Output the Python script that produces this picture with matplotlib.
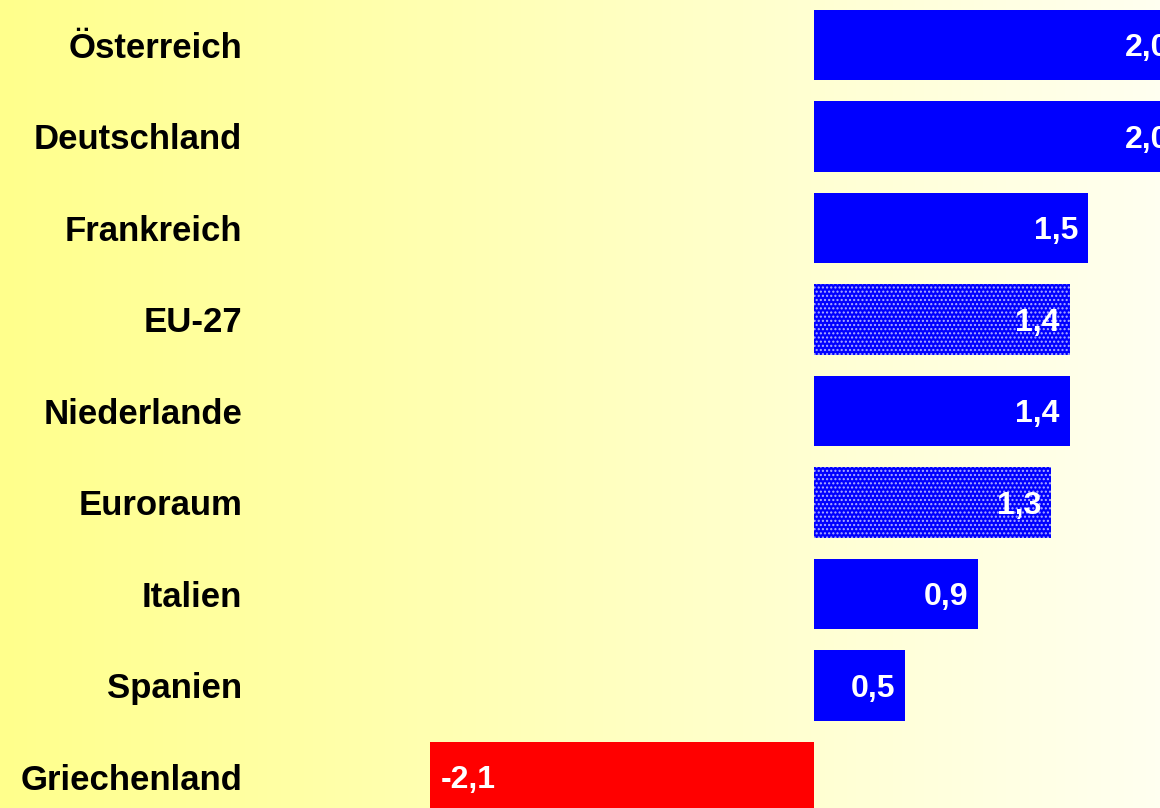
import numpy as np
import pandas as pd
import matplotlib.pyplot as plt


# ============ DATA ============

countries = ["Österreich", "Deutschland", "Frankreich", "EU-27", "Niederlande",
             "Euroraum", "Italien", "Spanien", "Griechenland"]
growth = [2.0, 2.0, 1.5, 1.4, 1.4, 1.3, 0.9, 0.5, -2.1]
aggregates = ["EU-27", "Euroraum"]


# ============ MAIN PROGRAM ============

if __name__ == "__main__":

    df = pd.DataFrame({"Land": countries, "Wachstum": growth})
    df["Aggregat"] = df["Land"].isin(aggregates)

    plt.rcParams['font.family'] = ['Liberation Sans', 'DejaVu Sans']
    plt.rcParams['hatch.linewidth'] = 1.0

    fig = plt.figure(figsize=(11.6, 8.08), dpi=100)
    ax = fig.add_axes([0, 0, 1, 1])

    # Background gradient (yellow -> white)
    grad = np.linspace(0, 1, 256).reshape(1, -1)
    ax.imshow(grad, extent=(-4.456, 1.894, 8.339, -0.492), aspect='auto',
              cmap=plt.matplotlib.colors.LinearSegmentedColormap.from_list(
                  "bg", ["#FFFF8C", "#FFFFF0"]), zorder=0)

    # Bars
    for i, row in df.iterrows():
        color = 'red' if row['Wachstum'] < 0 else 'blue'
        if row['Aggregat']:
            plt.barh(i, row['Wachstum'], height=0.77, color=color,
                     edgecolor='#b0b0ff', linewidth=0, hatch='....', zorder=2)
        else:
            plt.barh(i, row['Wachstum'], height=0.77, color=color,
                     linewidth=0, zorder=2)

        label = f"{row['Wachstum']:.1f}".replace('.', ',')
        if row['Wachstum'] >= 0:
            plt.text(row['Wachstum'] - 0.055, i + 0.035, label, ha='right', va='center',
                     color='white', fontsize=23, fontweight='bold', zorder=3)
        else:
            plt.text(row['Wachstum'] + 0.055, i + 0.035, label, ha='left', va='center',
                     color='white', fontsize=23, fontweight='bold', zorder=3)

        # Country labels
        plt.text(-3.13, i + 0.035, row['Land'], ha='right', va='center',
                 color='black', fontsize=25, fontweight='bold', zorder=3)

    plt.xlim(-4.456, 1.894)
    plt.ylim(8.339, -0.492)
    plt.axis('off')

    plt.savefig('out.png', dpi=100)
